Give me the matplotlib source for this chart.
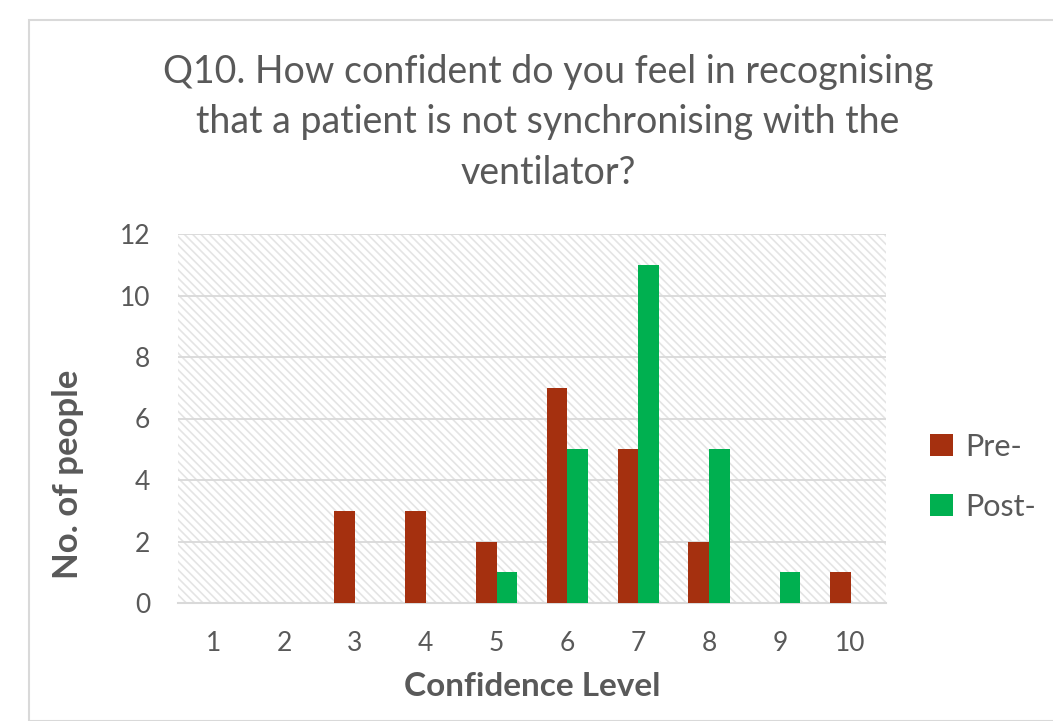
import matplotlib
matplotlib.use('agg')
import matplotlib.pyplot as plt
import numpy as np
from matplotlib.patches import Rectangle

# data
levels = ['1', '2', '3', '4', '5', '6', '7', '8', '9', '10']
pre = [0, 0, 3, 3, 2, 7, 5, 2, 0, 1]
post = [0, 0, 0, 0, 1, 5, 11, 5, 1, 0]
series_names = ['Pre-', 'Post-']

plt.rcParams['font.family'] = ['Lato', 'DejaVu Sans']
plt.rcParams['hatch.linewidth'] = 1.2
txt = '#595959'

fig = plt.figure(figsize=(10.53, 7.21), dpi=100)
# outer chart border
fig.patches.append(Rectangle((29/1053, 0), 1.2, 1-20/721, transform=fig.transFigure,
                             fill=False, edgecolor='#d9d9d9', linewidth=1.5))

ax = fig.add_axes([178/1053, 1-603/721, 708/1053, 369/721])
ax.add_patch(Rectangle((0, 0), 1, 1, transform=ax.transAxes, facecolor='white',
                       hatch='\\\\\\\\', edgecolor='#e4e4e4', linewidth=0, zorder=0))

x = np.arange(len(levels))
w = 0.29
ax.bar(x - w/2, pre, w, color='#a5300f', label=series_names[0], zorder=3)
ax.bar(x + w/2, post, w, color='#00b050', label=series_names[1], zorder=3)

ax.set_xlim(-0.5, len(levels) - 0.5)
ax.set_ylim(0, 12)
ax.set_yticks(range(0, 13, 2))
ax.set_xticks(x)
ax.set_xticklabels(levels)
ax.yaxis.grid(True, color='#d9d9d9', linewidth=1.3, zorder=1)
ax.set_axisbelow(True)
for s in ['top', 'right', 'left']:
    ax.spines[s].set_visible(False)
ax.spines['bottom'].set_color('#d9d9d9')
ax.spines['bottom'].set_linewidth(1.5)
ax.tick_params(axis='both', length=0, labelsize=19, colors=txt)
ax.tick_params(axis='x', pad=20)
ax.tick_params(axis='y', pad=20)

ax.set_xlabel('Confidence Level', fontsize=24, fontweight='bold', color=txt, labelpad=12)
ax.set_ylabel('No. of people', fontsize=25, fontweight='bold', color=txt)
ax.yaxis.set_label_coords(-0.133, 0.35)

fig.text(548/1053, 1-122/721,
         'Q10. How confident do you feel in recognising\nthat a patient is not synchronising with the\nventilator?',
         ha='center', va='center', fontsize=27, color=txt, linespacing=1.5)

leg = ax.legend(loc='center left', bbox_to_anchor=(1.023, 0.342), frameon=False,
                fontsize=22, labelcolor=txt, handlelength=0.75, handleheight=0.75,
                labelspacing=1.05, handletextpad=0.4)

fig.savefig('out.png', dpi=100)
